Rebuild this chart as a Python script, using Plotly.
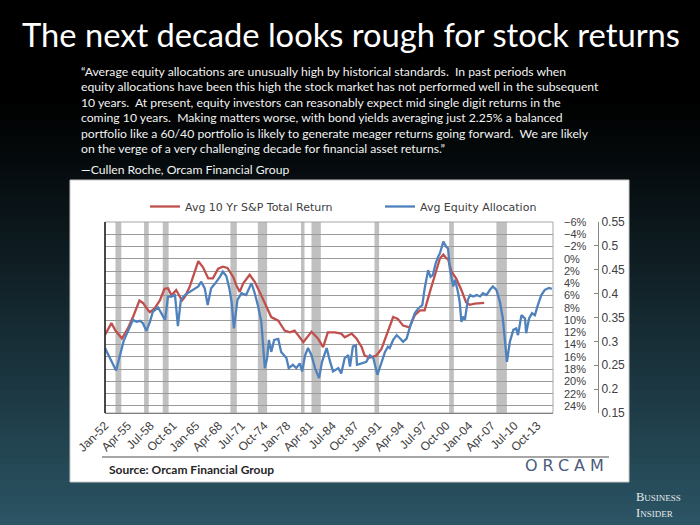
import plotly.graph_objects as go

# Avg Equity Allocation (outer right axis, 0.15 - 0.55)
alloc_dates = [
    "1952-01", "1953-08", "1954-09", "1955-07", "1956-01", "1956-07", "1957-01", "1957-06",
    "1957-12", "1958-06", "1958-11", "1959-08", "1960-05", "1960-08", "1961-01", "1961-07",
    "1962-01", "1962-06", "1962-11", "1963-06", "1963-11", "1964-08", "1965-05", "1965-10",
    "1966-04", "1966-09", "1967-03", "1967-09", "1968-03", "1968-06", "1968-11", "1969-05",
    "1969-10", "1970-02", "1970-06", "1970-12", "1971-07", "1972-03", "1972-12", "1973-05",
    "1973-11", "1974-05", "1974-11", "1975-03", "1975-06", "1975-10", "1976-03", "1976-10",
    "1977-03", "1977-12", "1978-04", "1978-11", "1979-05", "1979-11", "1980-03", "1980-08",
    "1981-01", "1981-07", "1982-01", "1982-08", "1983-01", "1983-09", "1984-03", "1984-08",
    "1985-05", "1985-10", "1986-04", "1986-10", "1987-01", "1987-06", "1987-11", "1988-01",
    "1988-09", "1989-05", "1989-11", "1990-05", "1990-12", "1991-07", "1992-01", "1992-06",
    "1992-09", "1993-03", "1993-09", "1994-03", "1994-08", "1995-02", "1995-08", "1996-04",
    "1996-10", "1997-05", "1997-09", "1998-03", "1998-07", "1998-11", "1999-04", "1999-08",
    "1999-11", "2000-05", "2000-10", "2001-01", "2001-04", "2001-10", "2002-01", "2002-06",
    "2002-09", "2002-12", "2003-03", "2003-06", "2003-09", "2003-11", "2004-03", "2004-08",
    "2005-02", "2005-08", "2006-01", "2006-07", "2007-01", "2007-06", "2007-12", "2008-06",
    "2008-11", "2009-02", "2009-06", "2009-11", "2010-05", "2010-10", "2011-01", "2011-07",
    "2012-01", "2012-03", "2012-08", "2013-01", "2013-06", "2013-11", "2014-05", "2014-11",
    "2015-06", "2015-11",
]
alloc_values = [
    0.286, 0.239, 0.301, 0.328, 0.345, 0.341, 0.343, 0.338,
    0.322, 0.341, 0.362, 0.371, 0.352, 0.345, 0.394, 0.394,
    0.397, 0.332, 0.387, 0.397, 0.401, 0.408, 0.415, 0.425,
    0.411, 0.376, 0.411, 0.420, 0.429, 0.435, 0.446, 0.437,
    0.412, 0.383, 0.327, 0.387, 0.401, 0.397, 0.422, 0.404,
    0.376, 0.341, 0.244, 0.265, 0.303, 0.278, 0.303, 0.305,
    0.278, 0.265, 0.244, 0.251, 0.244, 0.254, 0.237, 0.271,
    0.286, 0.271, 0.244, 0.223, 0.257, 0.286, 0.257, 0.237,
    0.244, 0.233, 0.265, 0.271, 0.247, 0.289, 0.292, 0.251,
    0.254, 0.257, 0.271, 0.265, 0.230, 0.257, 0.278, 0.289,
    0.286, 0.303, 0.313, 0.306, 0.299, 0.306, 0.331, 0.359,
    0.369, 0.376, 0.411, 0.449, 0.435, 0.439, 0.464, 0.477,
    0.484, 0.509, 0.498, 0.495, 0.454, 0.415, 0.429, 0.404,
    0.383, 0.341, 0.352, 0.345, 0.369, 0.387, 0.397, 0.394,
    0.397, 0.394, 0.401, 0.397, 0.408, 0.415, 0.408, 0.383,
    0.348, 0.313, 0.257, 0.299, 0.324, 0.327, 0.313, 0.355,
    0.348, 0.317, 0.348, 0.359, 0.355, 0.376, 0.397, 0.408,
    0.412, 0.410,
]

# Avg 10 Yr S&P Total Return, % (inverted inner right axis)
ret_dates = [
    "1952-01", "1952-12", "1953-07", "1954-06", "1955-04", "1956-01", "1956-12", "1957-06",
    "1958-03", "1958-06", "1959-02", "1959-11", "1960-07", "1961-01", "1961-07", "1962-03",
    "1963-01", "1963-06", "1964-02", "1964-10", "1965-05", "1966-01", "1966-10", "1967-06",
    "1968-03", "1968-11", "1969-07", "1970-05", "1970-10", "1971-04", "1971-10", "1972-09",
    "1973-06", "1974-05", "1975-02", "1975-10", "1976-10", "1977-09", "1978-06", "1979-02",
    "1980-05", "1981-07", "1982-06", "1983-03", "1983-11", "1984-11", "1985-10", "1986-04",
    "1987-04", "1987-12", "1988-09", "1989-02", "1989-11", "1990-10", "1991-07", "1992-03",
    "1993-03", "1993-11", "1994-08", "1995-07", "1996-04", "1997-01", "1997-09", "1998-06",
    "1999-02", "1999-11", "2000-05", "2000-10", "2001-01", "2001-07", "2002-03", "2002-12",
    "2003-08", "2004-02", "2004-11", "2005-07", "2006-03",
]
ret_values = [
    12.4, 10.5, 11.7, 13.0, 11.4, 9.5, 6.8, 7.2,
    8.4, 8.7, 8.1, 6.8, 4.9, 4.8, 6.0, 5.1,
    6.8, 6.2, 4.6, 2.4, 0.4, 1.4, 3.2, 3.2,
    1.6, 1.3, 1.5, 3.0, 4.3, 5.4, 4.0, 2.6,
    3.8, 6.0, 7.9, 9.5, 10.1, 11.7, 12.0, 11.7,
    13.6, 11.9, 13.0, 14.4, 12.0, 12.0, 12.2, 12.8,
    12.2, 13.0, 14.4, 15.8, 16.1, 15.8, 14.7, 12.5,
    9.5, 9.8, 10.9, 11.2, 9.2, 8.4, 8.4, 5.4,
    2.7, 0.0, -0.7, -0.1, 0.0, 2.1, 3.2, 5.1,
    7.1, 7.5, 7.3, 7.3, 7.2,
]

# US recessions (grey bands)
recession_starts = ["1953-07", "1957-08", "1960-04", "1969-12", "1973-11",
                    "1980-01", "1981-07", "1990-07", "2001-03", "2007-12"]
recession_ends = ["1954-05", "1958-04", "1961-02", "1970-11", "1975-03",
                  "1980-07", "1982-11", "1991-03", "2001-11", "2009-06"]

title_text = "The next decade looks rough for stock returns"
quote_lines = [
    "“Average equity allocations are unusually high by historical standards.  In past periods when",
    "equity allocations have been this high the stock market has not performed well in the subsequent",
    "10 years.  At present, equity investors can reasonably expect mid single digit returns in the",
    "coming 10 years.  Making matters worse, with bond yields averaging just 2.25% a balanced",
    "portfolio like a 60/40 portfolio is likely to generate meager returns going forward.  We are likely",
    "on the verge of a very challenging decade for financial asset returns.”",
    "—Cullen Roche, Orcam Financial Group",
]
source_text = "Source: Orcam Financial Group"

W, H = 700, 525


def px(x):
    return x / W


def py(y):
    return 1 - y / H


fig = go.Figure()

fig.add_trace(go.Scatter(x=ret_dates, y=ret_values, name="Avg 10 Yr S&P Total Return",
                         mode="lines", line=dict(color="#c0504d", width=2.3), yaxis="y"))
fig.add_trace(go.Scatter(x=alloc_dates, y=alloc_values, name="Avg Equity Allocation",
                         mode="lines", line=dict(color="#4f81bd", width=2.3), yaxis="y2"))

shapes = []

# dark slide background, black at top fading to teal
n = 70
top_c = (0, 0, 0)
bot_c = (44, 86, 102)
for i in range(n):
    y_top = i * H / n
    t = max(0.0, (y_top - 90) / (H - 90))
    t = t ** 1.1
    c = tuple(int(a + (b - a) * t) for a, b in zip(top_c, bot_c))
    shapes.append(dict(type="rect", xref="paper", yref="paper", x0=0, x1=1,
                       y0=py(y_top + H / n + 1), y1=py(y_top), fillcolor="rgb(%d,%d,%d)" % c,
                       line=dict(width=0), layer="below"))

# white chart panel
shapes.append(dict(type="rect", xref="paper", yref="paper", x0=px(70), x1=px(629),
                   y0=py(482), y1=py(180), fillcolor="white",
                   line=dict(color="#c8c8c8", width=1), layer="below"))

# recession bands
for s, e in zip(recession_starts, recession_ends):
    shapes.append(dict(type="rect", xref="x", yref="y domain", x0=s, x1=e, y0=0, y1=1,
                       fillcolor="#c0c0c0", line=dict(width=0), layer="below"))

# plot frame
shapes.append(dict(type="rect", xref="x domain", yref="y domain", x0=0, x1=1, y0=0, y1=1,
                   line=dict(color="#a6a6a6", width=1), layer="above"))
shapes.append(dict(type="line", xref="x domain", yref="y domain", x0=0, x1=0, y0=0, y1=1,
                   line=dict(color="#1a1a1a", width=1.5), layer="above"))

# separator above source line
shapes.append(dict(type="line", xref="paper", yref="paper", x0=px(102), x1=px(609),
                   y0=py(457), y1=py(457), line=dict(color="#a6a6a6", width=2)))

annotations = [
    dict(text=title_text, x=px(351), y=py(35), xref="paper", yref="paper", showarrow=False,
         xanchor="center", yanchor="middle", font=dict(family="Lato", size=32.7, color="white")),
]
for i, line in enumerate(quote_lines):
    yy = 71 + 15.6 * i if i < 6 else 170
    annotations.append(dict(text=line, x=px(79), y=py(yy), xref="paper", yref="paper",
                            showarrow=False, xanchor="left", yanchor="middle",
                            font=dict(family="Lato", size=12.2, color="#f2f2f2")))
annotations.append(dict(text="<b>" + source_text + "</b>", x=px(107), y=py(469),
                        xref="paper", yref="paper", showarrow=False, xanchor="left",
                        yanchor="middle", font=dict(family="Lato", size=12, color="#262626")))
annotations.append(dict(text='<span style="letter-spacing:5px">ORCAM</span>', x=px(567), y=py(465),
                        xref="paper", yref="paper", showarrow=False, xanchor="center",
                        yanchor="middle", font=dict(family="DejaVu Sans", size=16, color="#4b5b7c")))
annotations.append(dict(text="Business<br>Insider", x=px(658), y=py(505), xref="paper",
                        yref="paper", showarrow=False, xanchor="center", yanchor="middle",
                        align="left",
                        font=dict(family="Liberation Serif", size=12.5, color="#e6eaee",
                                  variant="small-caps")))

tick_font = dict(family="Liberation Sans", size=12, color="#404040")
pct_font = dict(family="Liberation Sans", size=11, color="#404040")

fig.update_layout(
    width=W, height=H, autosize=False,
    margin=dict(l=0, r=0, t=0, b=0, autoexpand=False),
    paper_bgcolor="black", plot_bgcolor="white",
    shapes=shapes, annotations=annotations,
    showlegend=True,
    legend=dict(orientation="h", x=px(145), xanchor="left", y=py(192), yanchor="top",
                font=dict(family="DejaVu Sans", size=11, color="#404040"),
                bgcolor="rgba(0,0,0,0)", entrywidth=190, entrywidthmode="pixels"),
    xaxis=dict(type="date", domain=[px(105), px(553)], range=["1952-01-01", "2016-01-01"],
               tick0="1952-01-01", dtick="M39", tickformat="%b-%y", tickangle=-45,
               tickfont=tick_font, showgrid=False, zeroline=False, ticks="",
               showline=True, linecolor="#595959", linewidth=1, automargin=False),
    yaxis=dict(domain=[py(413), py(222)], range=[25.15, -6], side="right", anchor="x",
               tick0=-6, dtick=2, ticksuffix="%", showgrid=True, gridcolor="#9a9a9a",
               gridwidth=1, zeroline=False, showline=False, ticks="",
               tickfont=pct_font, ticklabelstandoff=10, automargin=False),
    yaxis2=dict(overlaying="y", anchor="free", position=px(598), side="right",
                range=[0.15, 0.55], tick0=0.15, dtick=0.05, showgrid=False, zeroline=False,
                showline=True, linecolor="#868686", ticks="inside", ticklen=4,
                tickcolor="#868686", tickfont=tick_font, automargin=False),
)

fig.write_html("out.html", config={"displayModeBar": False},
               post_script="document.body.style.margin='0';document.body.style.overflow='hidden';")
